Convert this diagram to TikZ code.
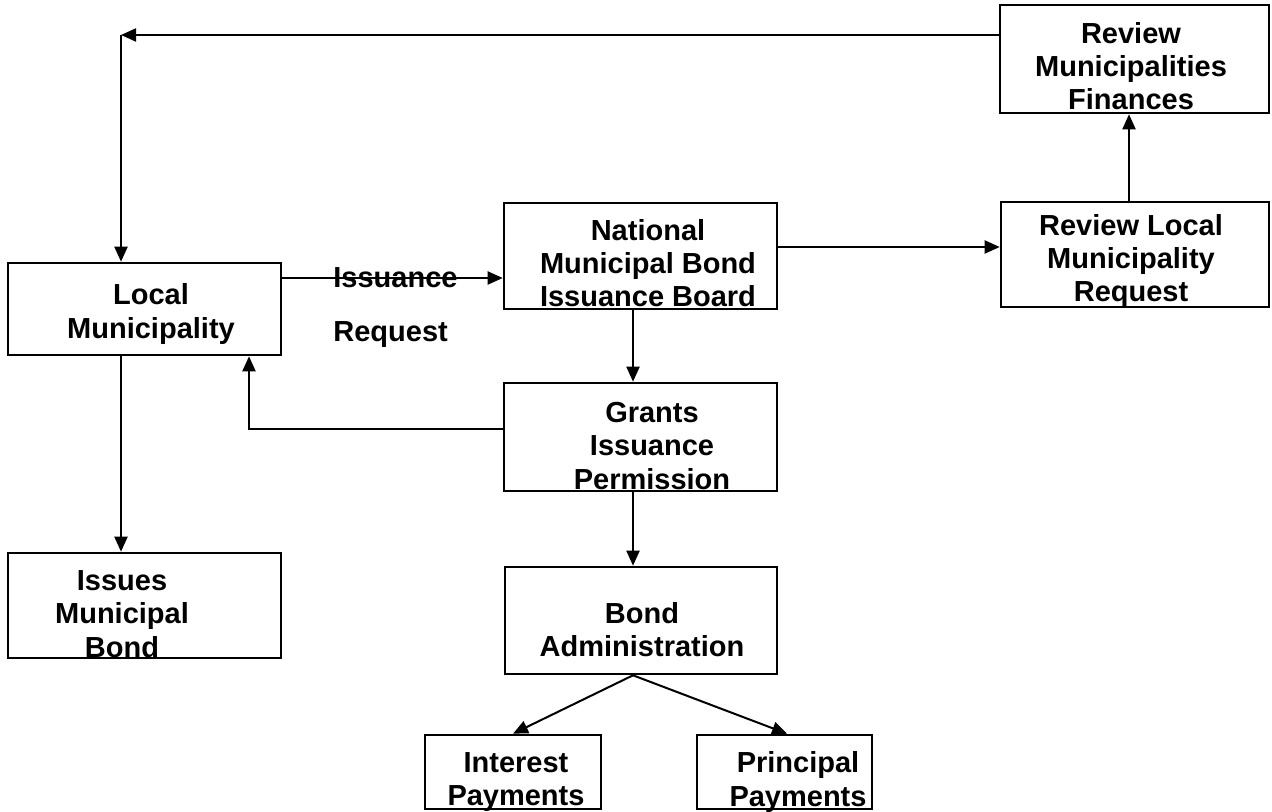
\documentclass[tikz,border=0pt]{standalone}
\usepackage{fontspec}
\setmainfont{Liberation Sans}
\usetikzlibrary{arrows.meta}
\begin{document}
\begin{tikzpicture}[x=0.5pt,y=-0.5pt,
  box/.style={draw, line width=1.3pt, rectangle, inner sep=0pt},
  txt/.style={align=center, inner sep=0pt, font=\fontsize{14.5}{16.6}\selectfont\bfseries},
  arr/.style={line width=1pt, -{Triangle[length=7.5pt,width=6.5pt]}},
  ln/.style={line width=1pt}]
\useasboundingbox (0,0) rectangle (1272,812);
% boxes
\node[box, minimum width=134.5pt, minimum height=54pt] (fin) at (1134.5,59) {};
\node[box, minimum width=134pt, minimum height=52.5pt] (req) at (1135,254.5) {};
\node[box, minimum width=136.5pt, minimum height=53pt] (nat) at (640.5,256) {};
\node[box, minimum width=136.5pt, minimum height=46pt] (loc) at (144.5,309) {};
\node[box, minimum width=136.5pt, minimum height=54pt] (gra) at (640.5,437) {};
\node[box, minimum width=136.5pt, minimum height=52.5pt] (iss) at (144.5,605.5) {};
\node[box, minimum width=136pt, minimum height=53.5pt] (bon) at (641,620.5) {};
\node[box, minimum width=88pt, minimum height=37pt] (int) at (513,772) {};
\node[box, minimum width=87.5pt, minimum height=37pt] (pri) at (784.5,772) {};
% texts
\node[txt] (finT) at (1131,66) {Review\\Municipalities\\Finances};
\node[txt] (reqT) at (1131,261) {Review Local\\Municipality\\Request};
\node[txt] (natT) at (648,263) {National\\Municipal Bond\\Issuance Board};
\node[txt] (locT) at (151,314) {Local\\Municipality};
\node[txt] (graT) at (652,446) {Grants\\Issuance\\Permission};
\node[txt] (issT) at (122,614) {Issues\\Municipal\\Bond};
\node[txt] (bonT) at (642,630) {Bond\\Administration};
\node[txt] (intT) at (516,782) {Interest\\Payments};
\node[txt] (priT) at (798,782) {Principal\\Payments};
% connectors
\coordinate (c1) at (121,35);
\draw[arr] (fin.west |- c1) -- (c1);
\draw[arr] (c1) -- (loc.north -| c1);
\node[txt, anchor=base west] (issu) at (333,288) {Issuance};
\node[txt, anchor=base west] (reqst) at (333,342) {Request};
\draw[arr] (loc.east |- 0,278) -- (nat.west |- 0,278);
\draw[arr] (nat.east |- 0,247) -- (req.west |- 0,247);
\draw[arr] (req.north -| 1129,0) -- (fin.south -| 1129,0);
\draw[arr] (loc.south -| c1) -- (iss.north -| c1);
\draw[arr] (gra.west |- 0,429) -| (loc.south -| 249,0);
\draw[arr] (nat.south -| 633,0) -- (gra.north -| 633,0);
\draw[arr] (gra.south -| 633,0) -- (bon.north -| 633,0);
\draw[arr] (bon.south -| 633,0) -- (int.north -| 513,0);
\draw[arr] (bon.south -| 633,0) -- (pri.north -| 787,0);
\end{tikzpicture}
\end{document}
